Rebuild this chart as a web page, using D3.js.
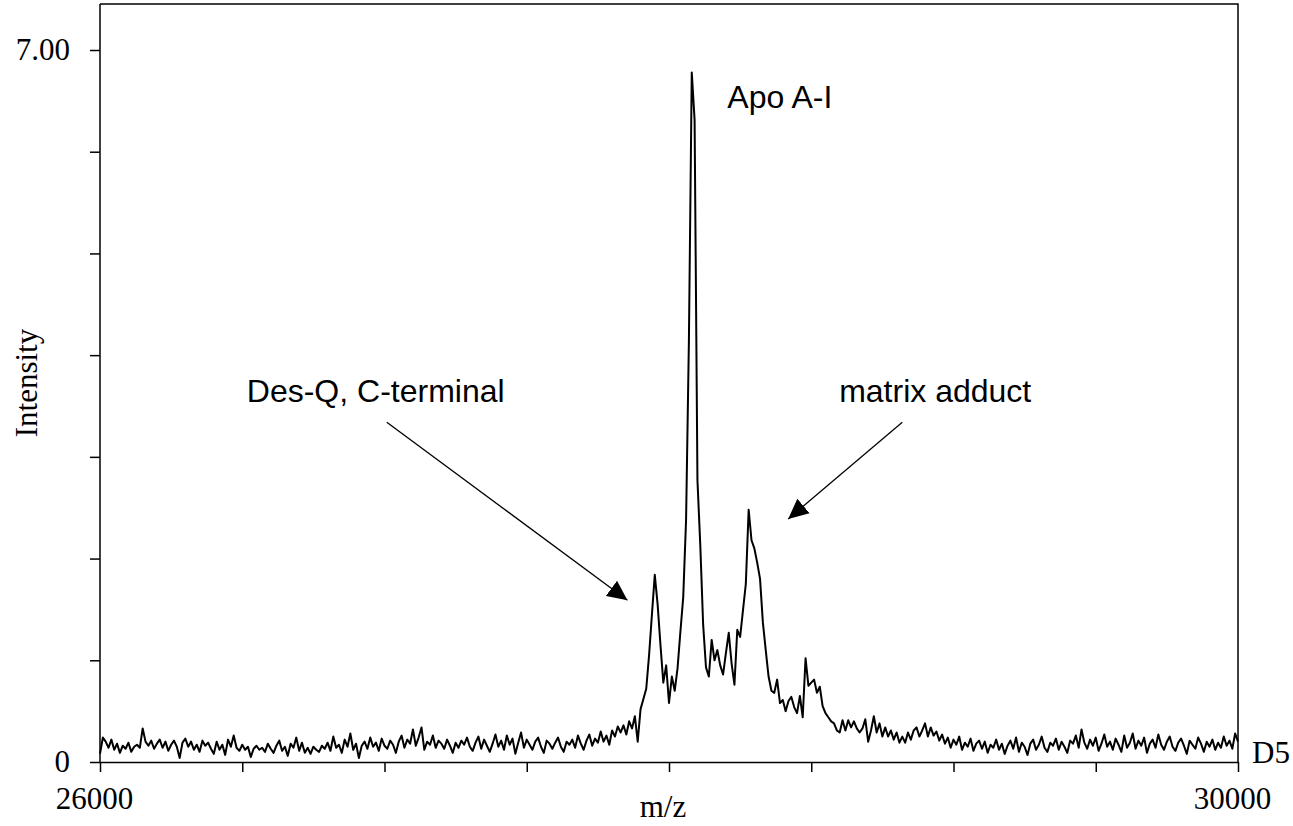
<!DOCTYPE html>
<html>
<head>
<meta charset="utf-8">
<script src="https://cdn.jsdelivr.net/npm/d3@7"></script>
<style>
  html, body { margin: 0; padding: 0; background: #fff; }
  svg { display: block; }
</style>
</head>
<body>
<svg id="chart" width="1293" height="826"></svg>
<script>
// m/z grid: 26000 .. 30000, step 10
const mzStart = 26000;
const mzStep = 10;
// Intensity (one value per m/z grid point)
const intensity = [
  0.08, 0.24, 0.20, 0.14, 0.22, 0.12, 0.18, 0.09, 0.16, 0.13, 0.19, 0.10, 0.15, 0.17, 0.14, 0.33, 0.20, 0.16, 0.21, 0.13,
  0.18, 0.22, 0.14, 0.20, 0.11, 0.17, 0.21, 0.15, 0.04, 0.19, 0.23, 0.15, 0.20, 0.12, 0.17, 0.10, 0.21, 0.16, 0.19, 0.13,
  0.08, 0.20, 0.12, 0.17, 0.07, 0.22, 0.15, 0.26, 0.14, 0.11, 0.17, 0.12, 0.15, 0.05, 0.13, 0.16, 0.12, 0.14, 0.10, 0.18,
  0.13, 0.09, 0.16, 0.21, 0.11, 0.15, 0.06, 0.18, 0.14, 0.24, 0.11, 0.19, 0.09, 0.14, 0.08, 0.15, 0.12, 0.10, 0.16, 0.13,
  0.19, 0.11, 0.25, 0.14, 0.17, 0.09, 0.22, 0.15, 0.28, 0.12, 0.18, 0.04, 0.16, 0.20, 0.13, 0.24, 0.15, 0.19, 0.11, 0.23,
  0.16, 0.13, 0.21, 0.17, 0.09, 0.20, 0.26, 0.14, 0.22, 0.18, 0.32, 0.16, 0.24, 0.34, 0.12, 0.20, 0.17, 0.26, 0.14, 0.21,
  0.18, 0.13, 0.22, 0.16, 0.09, 0.19, 0.14, 0.21, 0.17, 0.24, 0.15, 0.11, 0.19, 0.25, 0.13, 0.22, 0.16, 0.10, 0.18, 0.27,
  0.15, 0.21, 0.12, 0.26, 0.17, 0.23, 0.08, 0.19, 0.29, 0.14, 0.22, 0.17, 0.12, 0.20, 0.24, 0.15, 0.09, 0.21, 0.18, 0.13,
  0.19, 0.24, 0.15, 0.10, 0.20, 0.17, 0.22, 0.14, 0.26, 0.18, 0.12, 0.21, 0.27, 0.16, 0.23, 0.19, 0.30, 0.20, 0.26, 0.17,
  0.31, 0.25, 0.35, 0.29, 0.36, 0.27, 0.40, 0.33, 0.45, 0.20, 0.52, 0.62, 0.72, 1.05, 1.45, 1.84, 1.55, 1.15, 0.78, 0.95,
  0.58, 0.84, 0.70, 0.92, 1.28, 1.62, 2.38, 4.15, 6.78, 6.31, 2.77, 2.13, 1.35, 0.93, 0.84, 1.20, 1.00, 1.10, 0.95, 0.86,
  1.07, 1.27, 0.97, 0.76, 1.30, 1.23, 1.49, 1.75, 2.48, 2.18, 2.10, 1.96, 1.80, 1.37, 1.10, 0.84, 0.70, 0.68, 0.81, 0.58,
  0.61, 0.50, 0.60, 0.64, 0.54, 0.48, 0.65, 0.44, 1.02, 0.75, 0.78, 0.81, 0.68, 0.74, 0.55, 0.48, 0.44, 0.40, 0.38, 0.31,
  0.29, 0.41, 0.31, 0.41, 0.34, 0.40, 0.33, 0.29, 0.33, 0.42, 0.20, 0.31, 0.45, 0.29, 0.38, 0.25, 0.34, 0.25, 0.31, 0.22,
  0.29, 0.19, 0.25, 0.19, 0.29, 0.22, 0.31, 0.34, 0.25, 0.31, 0.38, 0.25, 0.34, 0.26, 0.30, 0.21, 0.27, 0.18, 0.24, 0.14,
  0.22, 0.17, 0.25, 0.12, 0.19, 0.15, 0.23, 0.11, 0.18, 0.21, 0.13, 0.20, 0.09, 0.17, 0.14, 0.22, 0.12, 0.18, 0.08, 0.16,
  0.21, 0.13, 0.24, 0.10, 0.19, 0.15, 0.07, 0.18, 0.22, 0.12, 0.17, 0.25, 0.14, 0.10, 0.19, 0.16, 0.23, 0.12, 0.20, 0.15,
  0.09, 0.21, 0.18, 0.26, 0.14, 0.32, 0.19, 0.13, 0.22, 0.16, 0.24, 0.11, 0.18, 0.27, 0.15, 0.20, 0.12, 0.23, 0.17, 0.10,
  0.26, 0.14, 0.19, 0.28, 0.13, 0.21, 0.16, 0.24, 0.09, 0.18, 0.22, 0.14, 0.27, 0.17, 0.12, 0.20, 0.25, 0.15, 0.11, 0.19,
  0.23, 0.16, 0.08, 0.21, 0.17, 0.13, 0.24, 0.18, 0.10, 0.20, 0.15, 0.22, 0.12, 0.19, 0.14, 0.25, 0.16, 0.21, 0.13, 0.28,
  0.20
];
const mz = intensity.map((_, i) => mzStart + i * mzStep);

const xDomain = [26000, 30000];
const yDomain = [0, 7];
const xTicks = [26000, 26500, 27000, 27500, 28000, 28500, 29000, 29500, 30000];
const xTickLabels = { 26000: "26000", 30000: "30000" };
const yTicks = [0, 1, 2, 3, 4, 5, 6, 7];
const yTickLabels = { 0: "0", 7: "7.00" };

// annotations in data coordinates
const annoLabels = ["Apo A-I", "Des-Q, C-terminal", "matrix adduct"];
const annoLabelMz = [28205, 26516, 28598];
const annoLabelInt = [6.43, 3.54, 3.54];
const arrowFromMz = [27008, 28820];
const arrowFromInt = [3.34, 3.34];
const arrowToMz = [27854, 28419];
const arrowToInt = [1.59, 2.39];

const svg = d3.select("#chart");
const pLeft = 100, pRight = 1238, pTop = 4, pBottom = 762;
const x = d3.scaleLinear().domain(xDomain).range([pLeft, pRight]);
const y = d3.scaleLinear().domain(yDomain).range([pBottom, 50]);

const serif = "'Liberation Serif', 'Times New Roman', serif";
const sans = "'Liberation Sans', Arial, sans-serif";

// frame (top and right)
svg.append("path")
  .attr("d", `M${pLeft},${pTop}H${pRight}V${pBottom}`)
  .attr("fill", "none").attr("stroke", "#000").attr("stroke-width", 1.5);

// x axis
const xAxis = svg.append("g")
  .attr("transform", `translate(0,${pBottom})`)
  .call(d3.axisBottom(x).tickValues(xTicks).tickSize(10).tickSizeOuter(0).tickPadding(15)
    .tickFormat(d => xTickLabels[d] || ""));
xAxis.selectAll("text").attr("font-family", serif).attr("font-size", 31).attr("fill", "#000").attr("dx", -6);
xAxis.selectAll("line, path").attr("stroke", "#000").attr("stroke-width", 1.5);

// y axis
const yAxis = svg.append("g")
  .attr("transform", `translate(${pLeft},0)`)
  .call(d3.axisLeft(y).tickValues(yTicks).tickSize(10).tickSizeOuter(0).tickPadding(20)
    .tickFormat(d => yTickLabels[d] || ""));
yAxis.select("path.domain").attr("d", `M0,${pTop}V${pBottom}`);
yAxis.selectAll("text").attr("font-family", serif).attr("font-size", 31).attr("fill", "#000");
yAxis.selectAll("line, path").attr("stroke", "#000").attr("stroke-width", 1.5);

// spectrum trace
const line = d3.line().x((d, i) => x(mz[i])).y(d => y(d));
svg.append("path")
  .datum(intensity)
  .attr("d", line)
  .attr("fill", "none").attr("stroke", "#000").attr("stroke-width", 2)
  .attr("stroke-linejoin", "round");

// axis titles
svg.append("text").text("m/z")
  .attr("x", (pLeft + pRight) / 2 - 6).attr("y", 817)
  .attr("text-anchor", "middle").attr("font-family", serif).attr("font-size", 31);
svg.append("text").text("Intensity")
  .attr("transform", `translate(37,${(pTop + pBottom) / 2}) rotate(-90)`)
  .attr("text-anchor", "middle").attr("font-family", serif).attr("font-size", 31);
svg.append("text").text("D5")
  .attr("x", 1252).attr("y", 763)
  .attr("font-family", serif).attr("font-size", 31);

// arrowhead marker
svg.append("defs").append("marker")
  .attr("id", "arrow").attr("viewBox", "0 0 20 20")
  .attr("refX", 20).attr("refY", 10)
  .attr("markerWidth", 20).attr("markerHeight", 20)
  .attr("markerUnits", "userSpaceOnUse").attr("orient", "auto")
  .append("path").attr("d", "M0,0.5L20,10L0,19.5Z").attr("fill", "#000");

// annotations
annoLabels.forEach((t, i) => {
  svg.append("text").text(t)
    .attr("x", x(annoLabelMz[i])).attr("y", y(annoLabelInt[i]))
    .attr("font-family", sans).attr("font-size", 32).attr("fill", "#000");
});
arrowFromMz.forEach((m, i) => {
  svg.append("line")
    .attr("x1", x(m)).attr("y1", y(arrowFromInt[i]))
    .attr("x2", x(arrowToMz[i])).attr("y2", y(arrowToInt[i]))
    .attr("stroke", "#000").attr("stroke-width", 1.3)
    .attr("marker-end", "url(#arrow)");
});
</script>
</body>
</html>
